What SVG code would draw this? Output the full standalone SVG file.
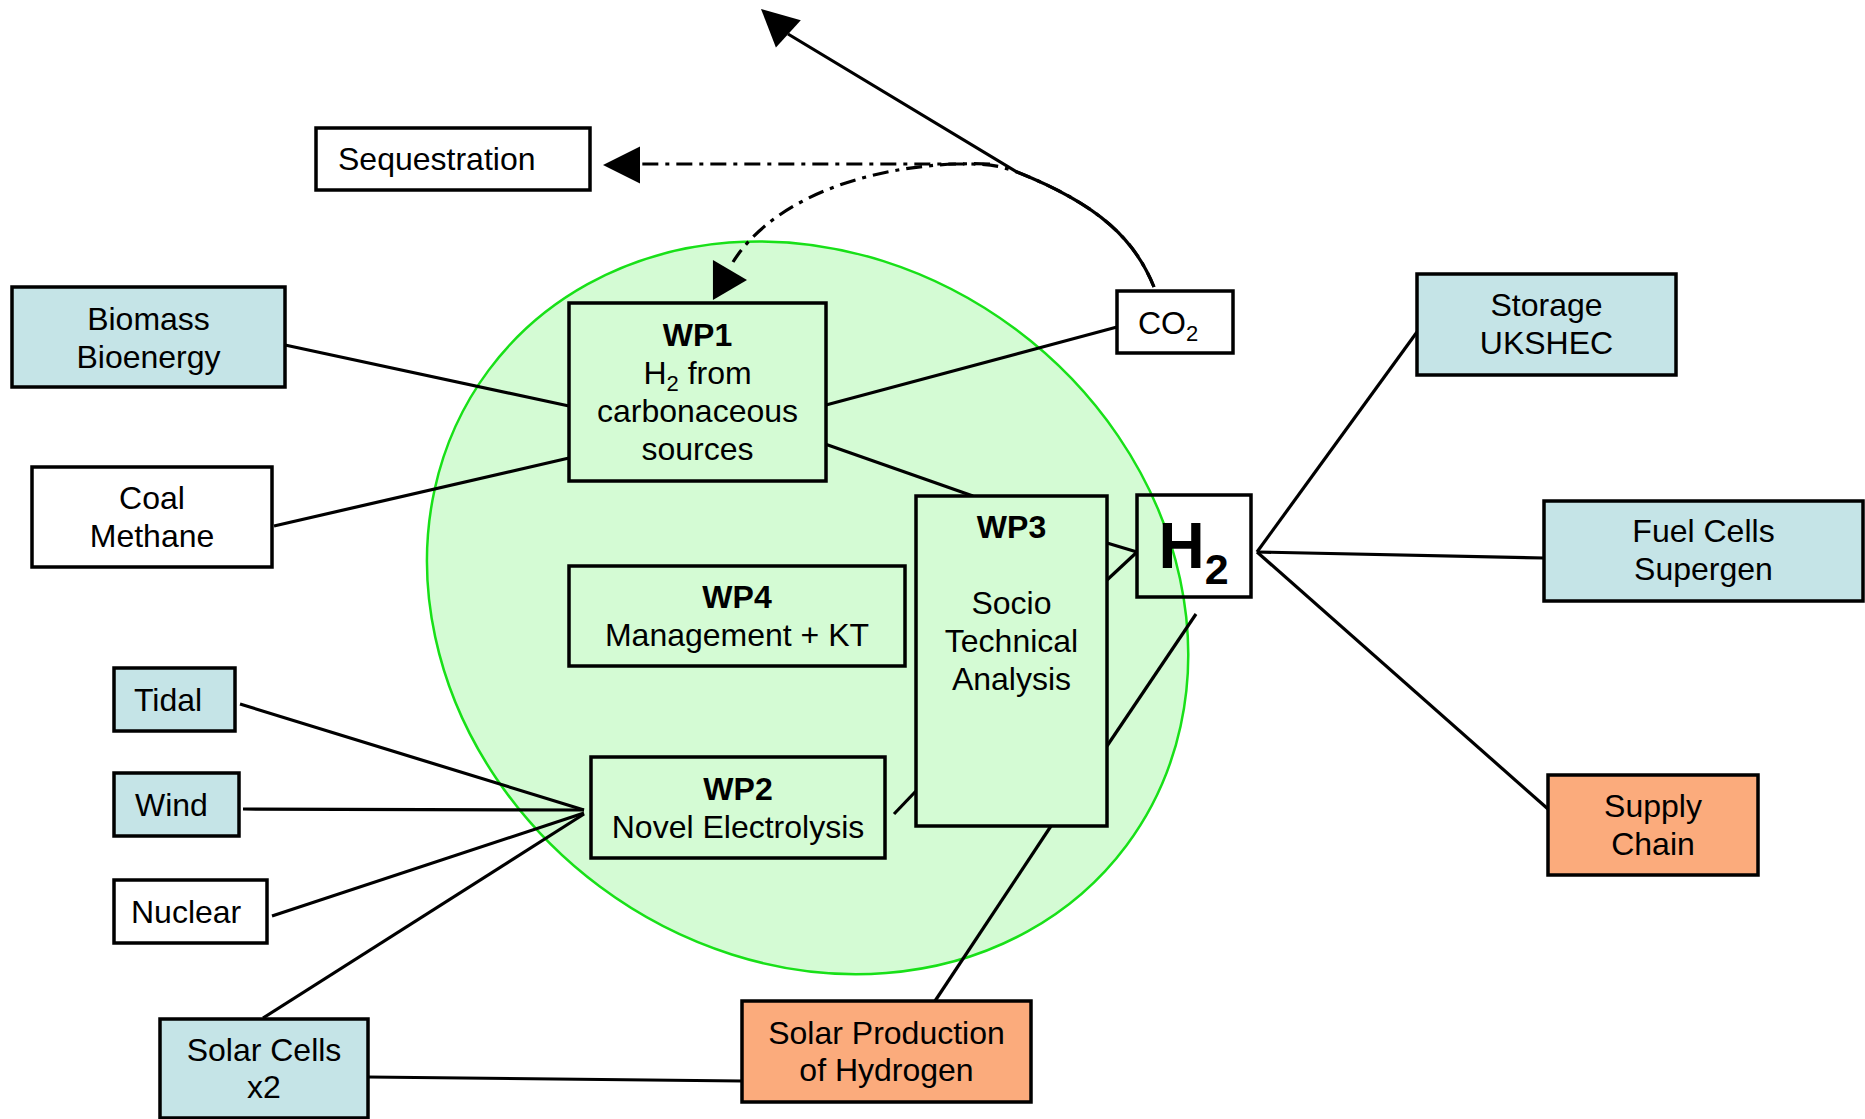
<svg xmlns="http://www.w3.org/2000/svg" width="1865" height="1119" viewBox="0 0 1865 1119">
<style>
text{font-family:"Liberation Sans",Arial,Helvetica,sans-serif;font-size:32px;fill:#000}
.c{text-anchor:middle}
.b{font-weight:bold}
.sub{font-size:22px}
.box{stroke:#000;stroke-width:3.5}
.blue{fill:#C5E4E7}
.orange{fill:#FBAB7C}
.white{fill:#fff}
.green{fill:#D4FBD4}
.conn line,.conn path{stroke:#000;stroke-width:3.2;fill:none}
.conn .dd{stroke-dasharray:16 7 4 7}
.ah{fill:#000;stroke:none}
</style>
<defs>
<path id="arrowhead" d="M0,0 L-37,-18.5 L-37,18.5 Z"/>
</defs>
<rect width="1865" height="1119" fill="#fff"/>
<ellipse id="work-area" cx="807.6" cy="607.8" rx="397.7" ry="347.7" transform="rotate(36.7 807.6 607.8)" fill="#D4FBD4" stroke="#18E018" stroke-width="2.5"/>
<g id="connectors" class="conn">
<line x1="285" y1="345" x2="569" y2="406"/>
<line x1="274" y1="526" x2="569" y2="458"/>
<line x1="826" y1="405" x2="1117" y2="327"/>
<line x1="825" y1="444" x2="973" y2="496"/>
<line x1="1107" y1="543" x2="1137" y2="552"/>
<line x1="1107" y1="580" x2="1137" y2="552"/>
<line x1="1257" y1="552" x2="1417" y2="332"/>
<line x1="1257" y1="552" x2="1544" y2="558"/>
<line x1="1257" y1="552" x2="1548" y2="809"/>
<line x1="1107" y1="746" x2="1196" y2="614"/>
<line x1="894" y1="814" x2="916" y2="791"/>
<line x1="1051" y1="826" x2="935" y2="1001"/>
<line x1="368" y1="1077" x2="742" y2="1081"/>
<line x1="240" y1="704" x2="584" y2="810"/>
<line x1="243" y1="809" x2="584" y2="810"/>
<line x1="272" y1="916" x2="584" y2="813"/>
<line x1="263" y1="1018" x2="584" y2="814"/>
<path d="M1154,287 C1135,240 1100,205 1017,172 L788,34"/>
<path class="dd" d="M1154,287 C1135,240 1100,205 1017,172 C1000,166 990,164 970,164 L640,164"/>
<path class="dd" d="M990,164 C880,160 775,195 733,262"/>
<use href="#arrowhead" class="ah" transform="translate(761,9) rotate(222.3)"/>
<use href="#arrowhead" class="ah" transform="translate(603,165) rotate(180)"/>
<use href="#arrowhead" class="ah" transform="translate(747,280) scale(0.92,1.08)"/>
</g>
<g id="n-sequestration"><rect class="box white" x="316" y="128" width="274" height="62"/><text x="338" y="170">Sequestration</text></g>
<g id="n-biomass"><rect class="box blue" x="12" y="287" width="273" height="100"/><text class="c" x="148.5" y="330">Biomass</text><text class="c" x="148.5" y="368">Bioenergy</text></g>
<g id="n-coal"><rect class="box white" x="32" y="467" width="240" height="100"/><text class="c" x="152" y="509">Coal</text><text class="c" x="152" y="547">Methane</text></g>
<g id="n-wp1"><rect class="box green" x="569" y="303" width="257" height="178"/><text class="c b" x="697.5" y="346">WP1</text><text class="c" x="697.5" y="384">H<tspan class="sub" dy="7">2</tspan><tspan dy="-7"> from</tspan></text><text class="c" x="697.5" y="422">carbonaceous</text><text class="c" x="697.5" y="460">sources</text></g>
<g id="n-co2"><rect class="box white" x="1117" y="291" width="116" height="62"/><text x="1138" y="334">CO<tspan class="sub" dy="7">2</tspan></text></g>
<g id="n-storage"><rect class="box blue" x="1417" y="274" width="259" height="101"/><text class="c" x="1546.5" y="316">Storage</text><text class="c" x="1546.5" y="354">UKSHEC</text></g>
<g id="n-fuelcells"><rect class="box blue" x="1544" y="501" width="319" height="100"/><text class="c" x="1703.5" y="542">Fuel Cells</text><text class="c" x="1703.5" y="580">Supergen</text></g>
<g id="n-supply"><rect class="box orange" x="1548" y="775" width="210" height="100"/><text class="c" x="1653" y="817">Supply</text><text class="c" x="1653" y="855">Chain</text></g>
<g id="n-h2"><rect class="box" fill="none" x="1137" y="495" width="114" height="102"/><text class="b" x="1158.5" y="568" style="font-size:64px">H<tspan style="font-size:43px" dy="15.5">2</tspan></text></g>
<g id="n-wp3"><rect class="box green" x="916" y="496" width="191" height="330"/><text class="c b" x="1011.5" y="538">WP3</text><text class="c" x="1011.5" y="614">Socio</text><text class="c" x="1011.5" y="652">Technical</text><text class="c" x="1011.5" y="690">Analysis</text></g>
<g id="n-wp4"><rect class="box green" x="569" y="566" width="336" height="100"/><text class="c b" x="737" y="608">WP4</text><text class="c" x="737" y="646">Management + KT</text></g>
<g id="n-wp2"><rect class="box green" x="591" y="757" width="294" height="101"/><text class="c b" x="738" y="800">WP2</text><text class="c" x="738" y="838">Novel Electrolysis</text></g>
<g id="n-tidal"><rect class="box blue" x="114" y="668" width="121" height="63"/><text x="134" y="711">Tidal</text></g>
<g id="n-wind"><rect class="box blue" x="114" y="773" width="125" height="63"/><text x="135" y="816">Wind</text></g>
<g id="n-nuclear"><rect class="box white" x="114" y="880" width="153" height="63"/><text x="131" y="923">Nuclear</text></g>
<g id="n-solarcells"><rect class="box blue" x="160" y="1019" width="208" height="99"/><text class="c" x="264" y="1061">Solar Cells</text><text class="c" x="264" y="1098">x2</text></g>
<g id="n-solarprod"><rect class="box orange" x="742" y="1001" width="289" height="101"/><text class="c" x="886.5" y="1044">Solar Production</text><text class="c" x="886.5" y="1081">of Hydrogen</text></g>
</svg>
